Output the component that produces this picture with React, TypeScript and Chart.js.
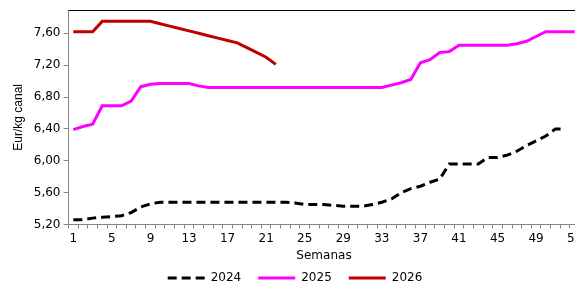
import React, { useEffect, useRef } from "react";
import { Chart, registerables } from "chart.js";

Chart.register(...registerables);

const weeks = [
  "1","2","3","4","5","6","7","8","9","10","11","12","13","14","15","16","17","18","19","20",
  "21","22","23","24","25","26","27","28","29","30","31","32","33","34","35","36","37","38","39","40",
  "41","42","43","44","45","46","47","48","49","50","51","52","53",
];

const series2024 = [
  5.26, 5.26, 5.28, 5.29, 5.30, 5.31, 5.35, 5.42, 5.46, 5.48,
  5.48, 5.48, 5.48, 5.48, 5.48, 5.48, 5.48, 5.48, 5.48, 5.48,
  5.48, 5.48, 5.48, 5.47, 5.45, 5.45, 5.45, 5.44, 5.43, 5.43,
  5.43, 5.45, 5.48, 5.52, 5.60, 5.65, 5.68, 5.73, 5.77, 5.96,
  5.96, 5.96, 5.96, 6.04, 6.04, 6.07, 6.12, 6.19, 6.25, 6.31,
  6.40, 6.40,
];

const series2025 = [
  6.39, 6.43, 6.46, 6.69, 6.69, 6.69, 6.75, 6.93, 6.96, 6.97,
  6.97, 6.97, 6.97, 6.94, 6.92, 6.92, 6.92, 6.92, 6.92, 6.92,
  6.92, 6.92, 6.92, 6.92, 6.92, 6.92, 6.92, 6.92, 6.92, 6.92,
  6.92, 6.92, 6.92, 6.95, 6.98, 7.02, 7.23, 7.27, 7.36, 7.37,
  7.45, 7.45, 7.45, 7.45, 7.45, 7.45, 7.47, 7.50, 7.56, 7.62,
  7.62, 7.62, 7.62,
];

const series2026 = [
  7.62, 7.62, 7.62, 7.75, 7.75, 7.75, 7.75, 7.75, 7.75, 7.72,
  7.69, 7.66, 7.63, 7.60, 7.57, 7.54, 7.51, 7.48, 7.42, 7.36,
  7.30, 7.21,
];

const seriesLabels = ["2024", "2025", "2026"];
const seriesColors = ["#000000", "#FF00FF", "#C00000"];
const yTicks = [5.2, 5.6, 6.0, 6.4, 6.8, 7.2, 7.6];
const yMin = 5.2;
const yMax = 7.89;

const FONT = "DejaVu Sans";
const AXIS_GRAY = "#868686";

const topBorderPlugin = {
  id: "topBorder",
  afterDraw(chart: any) {
    const { ctx, chartArea } = chart;
    ctx.save();
    ctx.strokeStyle = "#000000";
    ctx.lineWidth = 1;
    const y = Math.round(chartArea.top) + 0.5;
    ctx.beginPath();
    ctx.moveTo(chartArea.left, y);
    ctx.lineTo(chartArea.right, y);
    ctx.stroke();
    ctx.restore();
  },
};

const customLegendPlugin = {
  id: "customLegend",
  afterDraw(chart: any) {
    const ctx = chart.ctx;
    const datasets = chart.data.datasets;
    ctx.save();
    ctx.font = `12px "${FONT}"`;
    const sample = 37;
    const gap = 6;
    const spacing = 17;
    const widths = datasets.map((d: any) => sample + gap + ctx.measureText(d.label).width);
    const total = widths.reduce((a: number, b: number) => a + b, 0) + spacing * (datasets.length - 1);
    let x = chart.width / 2 - total / 2;
    const y = chart.height - 11;
    datasets.forEach((d: any, i: number) => {
      ctx.beginPath();
      ctx.strokeStyle = d.borderColor;
      ctx.lineWidth = d.borderWidth;
      ctx.setLineDash(d.borderDash || []);
      ctx.lineCap = "butt";
      ctx.moveTo(x, y);
      ctx.lineTo(x + sample, y);
      ctx.stroke();
      ctx.setLineDash([]);
      ctx.fillStyle = "#000000";
      ctx.textBaseline = "middle";
      ctx.textAlign = "left";
      ctx.fillText(d.label, x + sample + gap, y);
      x += widths[i] + spacing;
    });
    ctx.restore();
  },
};

export default function App() {
  const canvasRef = useRef<HTMLCanvasElement | null>(null);

  useEffect(() => {
    if (!canvasRef.current) return;
    const seriesData = [series2024, series2025, series2026];
    const chart = new Chart(canvasRef.current, {
      type: "line",
      data: {
        labels: weeks,
        datasets: seriesData.map((s, i) => ({
          label: seriesLabels[i],
          data: s,
          borderColor: seriesColors[i],
          backgroundColor: seriesColors[i],
          borderWidth: 3,
          borderDash: i === 0 ? [9, 5] : [],
          pointRadius: 0,
          tension: 0,
          fill: false,
        })),
      },
      options: {
        responsive: false,
        animation: false,
        devicePixelRatio: 1,
        layout: { padding: { top: 9, right: 10.5, bottom: 20, left: 0 } },
        plugins: {
          legend: { display: false },
          tooltip: { enabled: false },
        },
        scales: {
          x: {
            type: "category",
            offset: true,
            grid: {
              display: true,
              drawOnChartArea: false,
              drawTicks: true,
              tickLength: 4,
              offset: true,
              color: AXIS_GRAY,
            },
            border: { display: true, color: AXIS_GRAY, width: 1 },
            ticks: {
              autoSkip: false,
              maxRotation: 0,
              minRotation: 0,
              padding: 3,
              color: "#000000",
              font: { family: FONT, size: 12 },
              callback: (_v: any, i: number) => (i % 4 === 0 ? weeks[i] : ""),
            },
            title: {
              display: true,
              text: "Semanas",
              color: "#000000",
              font: { family: FONT, size: 12 },
              padding: { top: 0, bottom: 6 },
            },
            afterFit: (s: any) => {
              s.height = 44.5;
            },
          },
          y: {
            min: yMin,
            max: yMax,
            afterBuildTicks: (s: any) => {
              s.ticks = yTicks.map((v) => ({ value: v }));
            },
            grid: {
              display: true,
              drawOnChartArea: false,
              drawTicks: true,
              tickLength: 5,
              color: AXIS_GRAY,
            },
            border: { display: true, color: AXIS_GRAY, width: 1 },
            ticks: {
              padding: 3,
              color: "#000000",
              font: { family: FONT, size: 12 },
              callback: (v: any) => Number(v).toFixed(2).replace(".", ","),
            },
            title: {
              display: true,
              text: "Eur/kg canal",
              color: "#000000",
              font: { family: "Liberation Sans", size: 12 },
              padding: { top: 11, bottom: 0 },
            },
            afterFit: (s: any) => {
              s.width = 68.5;
            },
          },
        },
      },
      plugins: [topBorderPlugin, customLegendPlugin],
    });
    return () => chart.destroy();
  }, []);

  return (
    <div
      style={{
        position: "absolute",
        left: 0,
        top: 0,
        width: 575,
        height: 289,
        overflow: "hidden",
        background: "#ffffff",
      }}
    >
      <canvas ref={canvasRef} width={590} height={289} style={{ display: "block" }} />
    </div>
  );
}
